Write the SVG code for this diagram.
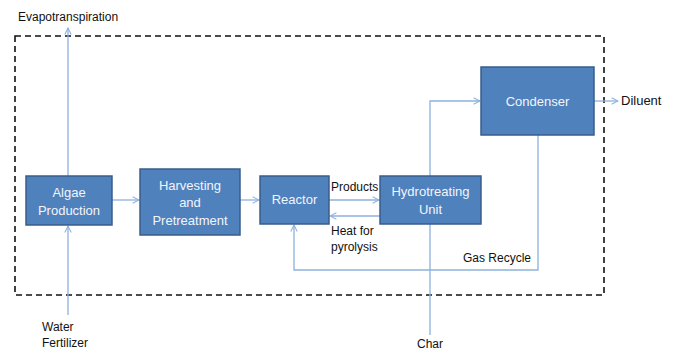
<svg xmlns="http://www.w3.org/2000/svg" width="677" height="350" viewBox="0 0 677 350">
<style>
.box{fill:#4F81BD;stroke:#385D8A;stroke-width:1.5}
.bt{font-family:"Liberation Sans",Arial,sans-serif;font-size:13px;fill:#F2F5FA;text-anchor:middle}
.lb{font-family:"Liberation Sans",Arial,sans-serif;font-size:12px;fill:#111}
.ln{fill:none;stroke:#8EB1DC;stroke-width:1.3}
</style>
<defs>
<marker id="ah" viewBox="0 0 10 10" refX="9" refY="5" markerWidth="8" markerHeight="8" markerUnits="userSpaceOnUse" orient="auto">
<path d="M1,1 L9,5 L1,9" fill="none" stroke="#8EB1DC" stroke-width="1.3"/>
</marker>
</defs>
<rect width="677" height="350" fill="#fff"/>
<rect x="15" y="36" width="589" height="259" fill="none" stroke="#111" stroke-width="1.6" stroke-dasharray="6,4"/>
<g id="connectors">
<line class="ln" x1="68" y1="176" x2="68" y2="28" marker-end="url(#ah)"/>
<line class="ln" x1="68" y1="315" x2="68" y2="226" marker-end="url(#ah)"/>
<line class="ln" x1="112" y1="200" x2="139" y2="200" marker-end="url(#ah)"/>
<line class="ln" x1="240" y1="200" x2="259" y2="200" marker-end="url(#ah)"/>
<line class="ln" x1="329" y1="200" x2="379" y2="200" marker-end="url(#ah)"/>
<line class="ln" x1="380" y1="216" x2="330" y2="216" marker-end="url(#ah)"/>
<polyline class="ln" points="430,335 430,101 480,101" marker-end="url(#ah)"/>
<line class="ln" x1="594" y1="101" x2="618" y2="101" marker-end="url(#ah)"/>
<polyline class="ln" points="538,135 538,270 294,270 294,225" marker-end="url(#ah)"/>
</g>
<g id="algae">
<rect class="box" x="26" y="176" width="86" height="49"/>
<text class="bt" x="69" y="197">Algae</text>
<text class="bt" x="69" y="215">Production</text>
</g>
<g id="harvesting">
<rect class="box" x="140" y="169" width="100" height="66"/>
<text class="bt" x="190" y="190">Harvesting</text>
<text class="bt" x="190" y="207">and</text>
<text class="bt" x="190" y="225">Pretreatment</text>
</g>
<g id="reactor">
<rect class="box" x="260" y="176" width="69" height="48"/>
<text class="bt" x="294.500" y="204">Reactor</text>
</g>
<g id="hydrotreating">
<rect class="box" x="380" y="176" width="101" height="48"/>
<text class="bt" x="430.500" y="196">Hydrotreating</text>
<text class="bt" x="430.500" y="214">Unit</text>
</g>
<g id="condenser">
<rect class="box" x="481" y="67" width="113" height="68"/>
<text class="bt" x="537.500" y="106">Condenser</text>
</g>
<g id="labels">
<text class="lb" x="18" y="21">Evapotranspiration</text>
<text class="lb" x="42" y="331">Water</text>
<text class="lb" x="42" y="347">Fertilizer</text>
<text class="lb" x="331" y="191">Products</text>
<text class="lb" x="331" y="235">Heat for</text>
<text class="lb" x="331" y="251">pyrolysis</text>
<text class="lb" x="463" y="262">Gas Recycle</text>
<text class="lb" x="430" y="348" text-anchor="middle">Char</text>
<text class="lb" x="621" y="105" style="font-size:13px">Diluent</text>
</g>
</svg>
